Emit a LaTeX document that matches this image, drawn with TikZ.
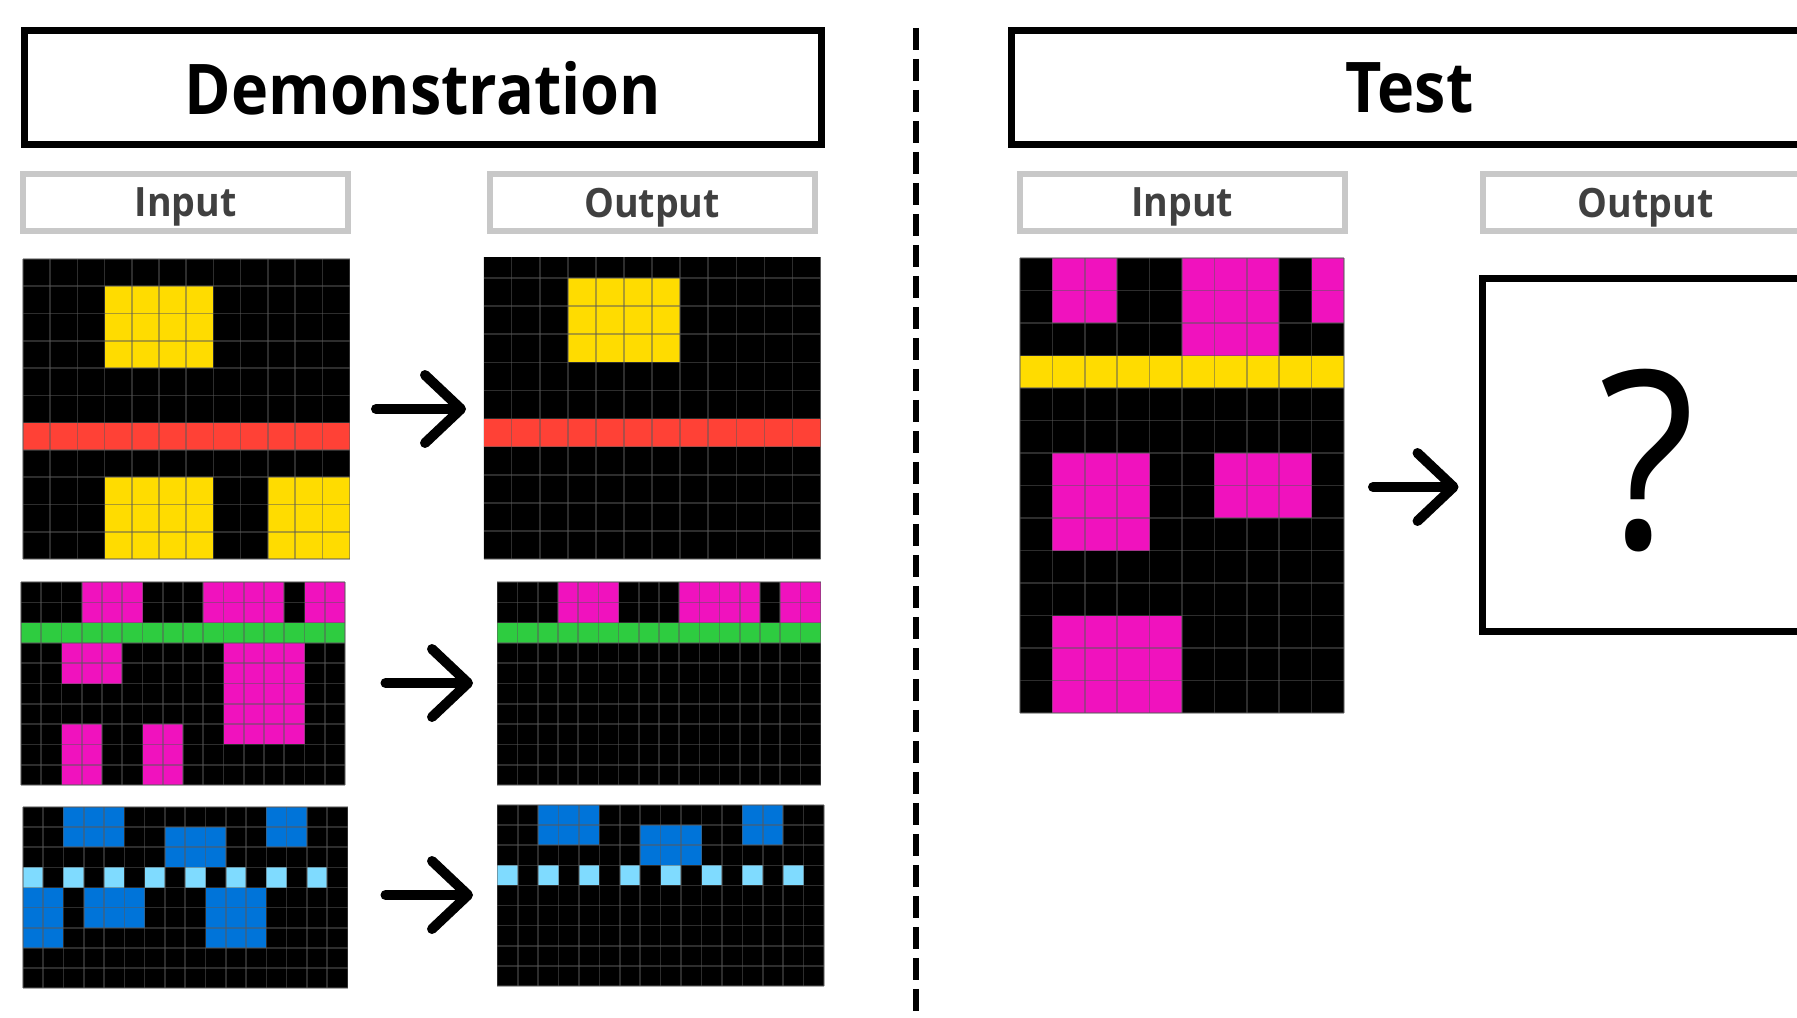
\documentclass[tikz,border=0pt]{standalone}
\usepackage{fontspec}
\setmainfont{Open Sans}
\newfontfamily\headfont{Open Sans}[FakeStretch=0.9]
\newfontfamily\labelfont{Open Sans}[FakeStretch=0.93]
\usetikzlibrary{arrows.meta, positioning, calc}
\definecolor{ArcYellow}{HTML}{FFDC00}
\definecolor{ArcRed}{HTML}{FF4136}
\definecolor{ArcGreen}{HTML}{2ECC40}
\definecolor{ArcPink}{HTML}{F012BE}
\definecolor{ArcBlue}{HTML}{0074D9}
\definecolor{ArcSky}{HTML}{7FDBFF}
\definecolor{CellLine}{HTML}{5A5A5A}
\definecolor{LabelGray}{HTML}{C8C8C8}
\definecolor{LabelText}{HTML}{404040}
\def\px{0.02cm}

% grid: x0, y0, cell width, cell height, columns, rows, blocks
\newcommand{\arcgrid}[7]{%
  \begin{scope}[shift={(#1,#2)}, x=#3*\px, y=-#4*\px]
    \fill[black] (0,0) rectangle (#5,#6);
    \foreach \ca/\ra/\cb/\rb/\cc in {#7}{
      \fill[\cc] (\ca,\ra) rectangle (\cb,\rb);
    }
    \foreach \i in {0,...,#5} \draw[cellline] (\i,0) -- (\i,#6);
    \foreach \j in {0,...,#6} \draw[cellline] (0,\j) -- (#5,\j);
  \end{scope}}

\begin{document}
\begin{tikzpicture}[x=\px, y=-\px,
	titlebox/.style={draw=black, line width=7*\px, inner sep=0pt, text depth=0pt,
		font=\headfont\fontsize{39.8}{39.8}\selectfont\bfseries},
	labelbox/.style={draw=LabelGray, line width=6*\px, inner sep=0pt, text depth=0pt,
		minimum width=325*\px, minimum height=57*\px, text=LabelText,
		font=\labelfont\fontsize{23}{23}\selectfont\bfseries},
	qbox/.style={draw=black, line width=7*\px, inner sep=0pt,
		minimum width=319*\px, minimum height=353*\px},
	qmark/.style={inner sep=0pt, text depth=0pt,
		font=\headfont\fontsize{141}{141}\selectfont},
	cellline/.style={draw=CellLine, line width=1.6*\px, draw opacity=0.5},
	flow/.style={line width=10*\px, line cap=round,
		-{Straight Barb[length=0.72cm, width=1.36cm, round]}},
	sepline/.style={line width=0.12cm, dash pattern=on 0.44cm off 0.18cm}]

	\useasboundingbox (0,0) rectangle (1797,1017);
	\clip (0,0) rectangle (1797,1017);

	% headers
	\node[titlebox, minimum width=797*\px, minimum height=114*\px] (demo) at (422.8,87.5) {Demonstration};
	\node[titlebox, minimum width=796*\px, minimum height=114*\px] (test) at (1409.5,87.5) {Test};
	\node[labelbox] (demoin) at (185.7,202.5) {Input};
	\node[labelbox] (demoout) at (652,202.5) {Output};
	\node[labelbox] (testin) at (1182.1,202.5) {Input};
	\node[labelbox] (testout) at (1645.8,202.5) {Output};

	\coordinate (septop) at (916,28);
	\coordinate (sepbot) at (916,1017);
	\draw[sepline] (septop) -- (sepbot);

	% demonstration pairs
	\arcgrid{22.9}{259}{27.22}{27.27}{12}{11}{3/1/7/4/ArcYellow, 0/6/12/7/ArcRed,
		3/8/7/11/ArcYellow, 9/8/12/11/ArcYellow}
	\begin{scope}
		\clip (483.6,257.8) rectangle (820.5,559);
		\arcgrid{483.6}{249.9}{28.08}{28.1}{12}{11}{3/1/7/4/ArcYellow, 0/6/12/7/ArcRed}
	\end{scope}

	\arcgrid{21}{582}{20.25}{20.3}{16}{10}{3/0/6/2/ArcPink, 9/0/13/2/ArcPink,
		14/0/16/2/ArcPink, 0/2/16/3/ArcGreen, 2/3/5/5/ArcPink, 10/3/14/8/ArcPink,
		2/7/4/10/ArcPink, 6/7/8/10/ArcPink}
	\arcgrid{497.4}{582}{20.2}{20.3}{16}{10}{3/0/6/2/ArcPink, 9/0/13/2/ArcPink,
		14/0/16/2/ArcPink, 0/2/16/3/ArcGreen}

	\arcgrid{22.9}{807}{20.29}{20.13}{16}{9}{2/0/5/2/ArcBlue, 12/0/14/2/ArcBlue,
		7/1/10/3/ArcBlue, 0/3/1/4/ArcSky, 2/3/3/4/ArcSky, 4/3/5/4/ArcSky,
		6/3/7/4/ArcSky, 8/3/9/4/ArcSky, 10/3/11/4/ArcSky, 12/3/13/4/ArcSky,
		14/3/15/4/ArcSky, 0/4/2/7/ArcBlue, 3/4/6/6/ArcBlue, 9/4/12/7/ArcBlue}
	\arcgrid{497.4}{805}{20.41}{20.1}{16}{9}{2/0/5/2/ArcBlue, 12/0/14/2/ArcBlue,
		7/1/10/3/ArcBlue, 0/3/1/4/ArcSky, 2/3/3/4/ArcSky, 4/3/5/4/ArcSky,
		6/3/7/4/ArcSky, 8/3/9/4/ArcSky, 10/3/11/4/ArcSky, 12/3/13/4/ArcSky,
		14/3/15/4/ArcSky}

	% test pair
	\arcgrid{1020}{258}{32.4}{32.5}{10}{14}{1/0/3/2/ArcPink, 5/0/8/3/ArcPink,
		9/0/10/2/ArcPink, 0/3/10/4/ArcYellow, 1/6/4/9/ArcPink, 6/6/9/8/ArcPink,
		1/11/5/14/ArcPink}
	\node[qbox] (qbox) at (1642,455) {};
	\node[qmark] (qmark) at (1647,459) {?};

	% arrows
	\coordinate (s1) at (376,409);
	\coordinate (e1) at (466,409);
	\coordinate (s2) at (385.5,683);
	\coordinate (e2) at (473,683);
	\coordinate (s3) at (385.5,895);
	\coordinate (e3) at (473,895);
	\coordinate (s4) at (1373,487);
	\draw[flow] (s1) -- (e1);
	\draw[flow] (s2) -- (e2);
	\draw[flow] (s3) -- (e3);
	\draw[flow] (s4) -- ($(s4 -| qbox.west)+(-20.5,0)$);
\end{tikzpicture}
\end{document}
